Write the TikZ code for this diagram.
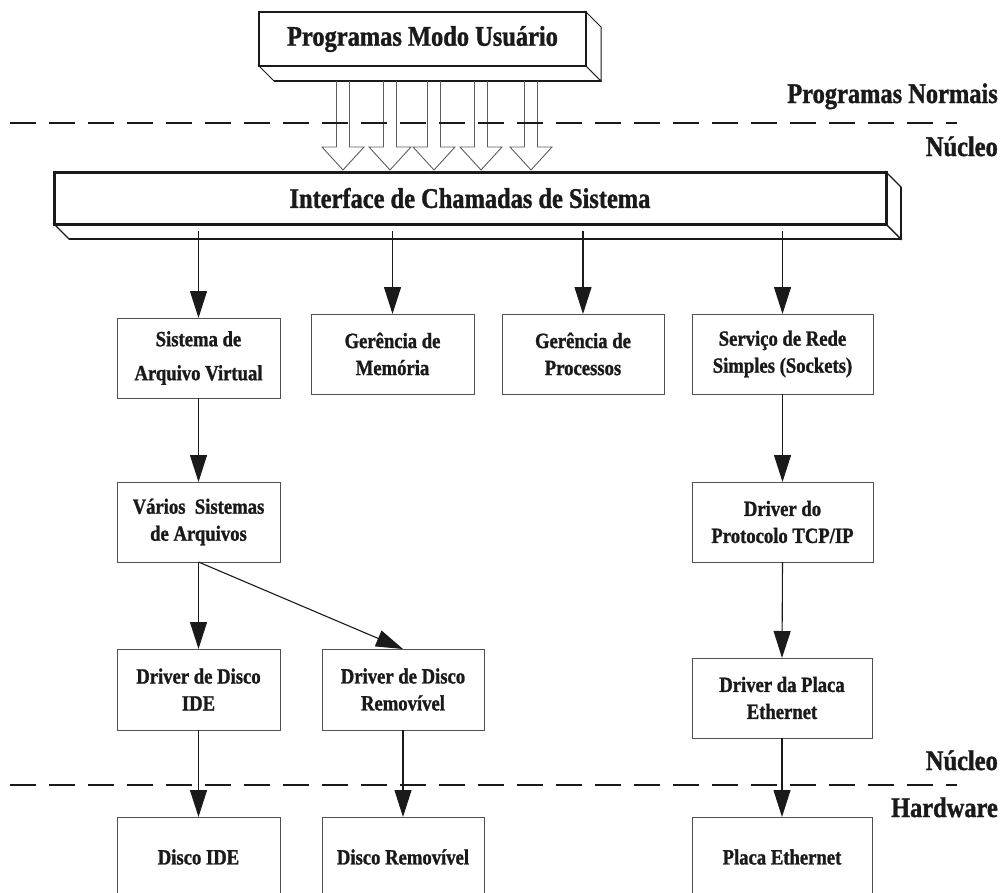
\documentclass[tikz,border=0pt]{standalone}
\usepackage{fontspec}
\setmainfont{Liberation Serif}[FakeStretch=0.86, BoldFeatures={FakeBold=1.2}]
\usetikzlibrary{arrows.meta}
\definecolor{ink}{HTML}{1A1A1A}
\definecolor{edge}{HTML}{505050}
\definecolor{hollow}{HTML}{5E5E5E}
\newcommand\slabfont{\fontsize{28.4}{34}\selectfont\bfseries}
\newcommand\unitfont{\fontsize{21.7}{27}\selectfont\bfseries}

\begin{document}
\begin{tikzpicture}[x=1pt,y=-1pt,
  unitbox/.style={draw=edge, line width=0.9pt, fill=white, align=center,
    inner sep=0pt, outer sep=0pt, minimum height=80pt, text=ink, font=\unitfont},
  slab/.style={draw=ink, fill=white, inner sep=0pt, outer sep=0pt,
    text=ink, font=\slabfont},
  flow/.style={draw=ink, line width=1.1pt, -{Triangle[length=27pt,width=17pt]}},
  hollowarrow/.style={draw=hollow, line width=0.9pt, line join=miter},
  divider/.style={draw=ink, line width=2.8pt, dash pattern=on 26pt off 13pt},
  side/.style={anchor=base east, text=ink, font=\slabfont, inner sep=0pt}]

\path[use as bounding box] (0,0) rectangle (1001,892);
\clip (0,0) rectangle (1001,892);

% ---- user programs slab (front face + extrusion)
\node[slab, line width=1.8pt, minimum width=327pt, minimum height=54pt]
  (user) at (422.5,39) {Programas Modo Usuário};
\draw[ink, line width=1pt, fill=white] (user.south west) -- ++(15,15) -- ++(327,0)
  -- (user.south east) -- cycle;
\draw[ink, line width=1pt, fill=white] (user.north east) -- ++(15,15) -- ++(0,54)
  -- (user.south east) -- cycle;
\draw[ink, line width=1.8pt] (user.south west) ++(15,15) -- ++(327,0);
\draw[ink, line width=1.8pt] (user.south west) rectangle (user.north east);

% ---- system call interface slab
\node[slab, line width=3pt, minimum width=832pt, minimum height=52pt]
  (sci) at (470,198) {Interface de Chamadas de Sistema};
\draw[ink, line width=1.1pt, fill=white] (sci.south west) -- ++(15,15) -- ++(832,0)
  -- (sci.south east) -- cycle;
\draw[ink, line width=1.1pt, fill=white] (sci.north east) -- ++(15,15) -- ++(0,52)
  -- (sci.south east) -- cycle;
\draw[ink, line width=2.8pt] (sci.south west) ++(15,15) -- ++(832,0);
\draw[ink, line width=1.5pt] (sci.north east) ++(15,15) -- ++(0,52);
\draw[ink, line width=3pt] (sci.south west) rectangle (sci.north east);

% ---- hollow call arrows between the two slabs
\foreach \x [count=\i] in {343,390,434,481,531} {
  \coordinate (h\i) at (\x,81);
  \draw[hollowarrow] (h\i) ++(-6.5,0) -- ++(0,66) -- ++(-14.5,0) -- ++(21,23)
    -- ++(21,-23) -- ++(-14.5,0) -- ++(0,-66);
}

% ---- boundaries between layers
\coordinate (d1a) at (10,123);  \coordinate (d1b) at (957,123);
\coordinate (d2a) at (10,785);  \coordinate (d2b) at (957,785);
\draw[divider] (d1a) -- (d1b);
\draw[divider] (d2a) -- (d2b);

\node[side] (lblprog) at (998,103) {Programas Normais};
\node[side] (lblnuc1) at (998,156) {Núcleo};
\node[side] (lblnuc2) at (998,770) {Núcleo};
\node[side] (lblhw)   at (998,817) {Hardware};

% ---- kernel subsystems
\node[unitbox, minimum width=163pt] (vfs)  at (198.5,358) {Sistema de\\[7pt]Arquivo Virtual};
\node[unitbox, minimum width=163pt] (mem)  at (392.5,354) {Gerência de\\Memória};
\node[unitbox, minimum width=162pt] (proc) at (583,354)   {Gerência de\\Processos};
\node[unitbox, minimum width=181pt] (sock) at (782.5,354) {Serviço de Rede\\Simples (Sockets)};

\node[unitbox, minimum width=163pt] (fs)  at (198.5,522) {Vários~ Sistemas\\de Arquivos};
\node[unitbox, minimum width=181pt] (tcp) at (782.5,522) {Driver do\\Protocolo TCP/IP};

\node[unitbox, minimum width=163pt, minimum height=81pt] (ided) at (198.5,689.5) {Driver de Disco\\IDE};
\node[unitbox, minimum width=162pt, minimum height=81pt] (remd) at (403,689.5)   {Driver de Disco\\Removível};
\node[unitbox, minimum width=180pt] (ethd) at (782,698) {Driver da Placa\\Ethernet};

% ---- hardware
\node[unitbox, minimum width=163pt] (ide) at (198.5,857) {Disco IDE};
\node[unitbox, minimum width=162pt] (rem) at (403,857)   {Disco Removível};
\node[unitbox, minimum width=180pt] (eth) at (782,857)   {Placa Ethernet};

% ---- connectors
\coordinate (bus) at (0,231);
\coordinate (t1) at (vfs.north |- bus);
\coordinate (t2) at (mem.north |- bus);
\coordinate (t3) at (proc.north |- bus);
\coordinate (t4) at (sock.north |- bus);
\draw[flow] (t1) -- (vfs.north);
\draw[flow] (t2) -- (mem.north);
\draw[flow] (t3) -- (proc.north);
\draw[flow] (t4) -- (sock.north);

\draw[flow] (vfs.south) -- (fs.north);
\draw[flow] (sock.south) -- (tcp.north);
\draw[flow] (fs.south) -- (ided.north);
\draw[flow] (fs.south) -- (remd.north);
\draw[flow] (tcp.south) -- (ethd.north);

\draw[flow] (ided.south) -- (ide.north);
\draw[flow] (remd.south) -- (rem.north);
\draw[flow] (ethd.south) -- (eth.north);

\end{tikzpicture}
\end{document}
